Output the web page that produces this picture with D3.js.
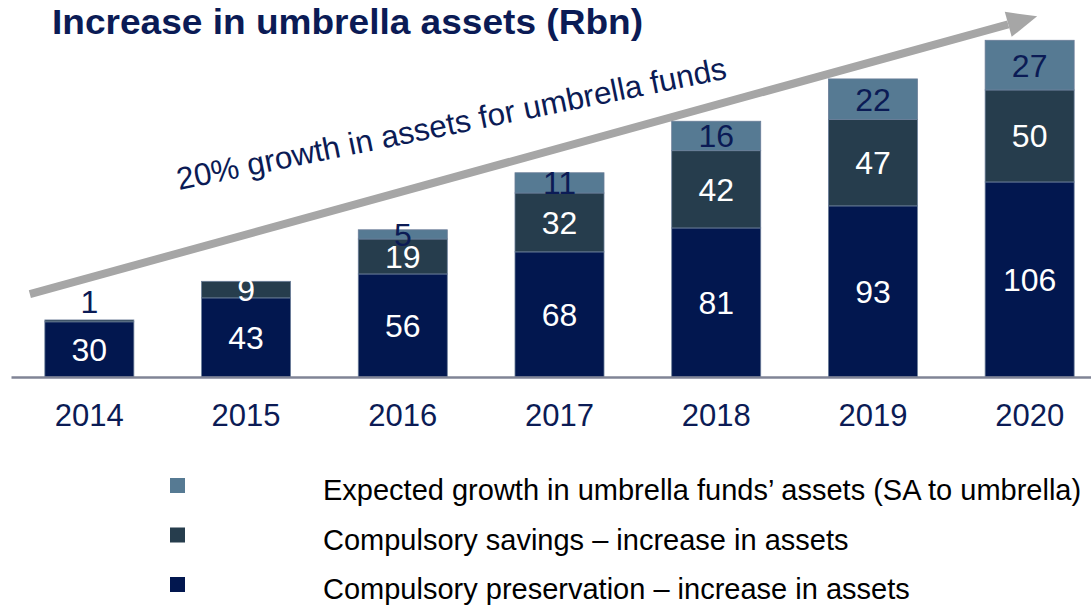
<!DOCTYPE html>
<html>
<head>
<meta charset="utf-8">
<script src="https://cdn.jsdelivr.net/npm/d3@7"></script>
<style>
  body { margin: 0; background: #fff; }
  svg { display: block; font-family: "Liberation Sans", Arial, sans-serif; }
</style>
</head>
<body>
<svg id="chart"></svg>
<script>
  const years = ['2014', '2015', '2016', '2017', '2018', '2019', '2020'];
  const preservation = [30, 43, 56, 68, 81, 93, 106];
  const savings = [1, 9, 19, 32, 42, 47, 50];
  const growth = [0, 0, 5, 11, 16, 22, 27];

  const seriesNames = [
    'Expected growth in umbrella funds\u2019 assets (SA to umbrella)',
    'Compulsory savings \u2013 increase in assets',
    'Compulsory preservation \u2013 increase in assets'
  ];
  const titleText = 'Increase in umbrella assets (Rbn)';
  const arrowText = '20% growth in assets for umbrella funds';

  const WIDTH = 1091;
  const HEIGHT = 609;
  const NAVY = '#0b1b55';
  const COLORS = { preservation: '#02174f', savings: '#263d4d', growth: '#567a93' };

  const svg = d3.select('#chart').attr('width', WIDTH).attr('height', HEIGHT);

  const x = d3.scaleBand()
    .domain(years)
    .range([11, 1108])
    .paddingInner(0.432)
    .paddingOuter(0.216);
  const y = d3.scaleLinear().domain([0, 200]).range([377, 9]);

  // stacked data
  const data = years.map((yr, i) => ({
    year: yr, preservation: preservation[i], savings: savings[i], growth: growth[i]
  }));
  const keys = ['preservation', 'savings', 'growth'];
  const stacked = d3.stack().keys(keys)(data);

  // title
  svg.append('text')
    .attr('x', 52).attr('y', 34)
    .attr('font-size', 35).attr('font-weight', 'bold')
    .attr('fill', NAVY)
    .attr('textLength', 591).attr('lengthAdjust', 'spacingAndGlyphs')
    .text(titleText);

  // growth arrow (drawn behind the bars)
  const ax0 = x('2014') - 15, ay0 = y(45);
  const ax1 = x('2020') + x.bandwidth() - 37, ay1 = y(196);
  const ang = Math.atan2(ay1 - ay0, ax1 - ax0);
  const headLen = 30, headW = 13;
  const bx = ax1 - headLen * Math.cos(ang), by = ay1 - headLen * Math.sin(ang);
  svg.append('line')
    .attr('x1', ax0).attr('y1', ay0).attr('x2', bx).attr('y2', by)
    .attr('stroke', '#a6a6a6').attr('stroke-width', 8);
  svg.append('path')
    .attr('d', d3.line()([
      [ax1, ay1],
      [bx + headW * Math.sin(ang), by - headW * Math.cos(ang)],
      [bx - headW * Math.sin(ang), by + headW * Math.cos(ang)]
    ]) + 'Z')
    .attr('fill', '#a6a6a6');

  svg.append('text')
    .attr('transform', 'translate(179,190) rotate(-11.5)')
    .attr('font-size', 31.5)
    .attr('fill', NAVY)
    .text(arrowText);

  // bars
  const layer = svg.selectAll('.layer')
    .data(stacked)
    .enter().append('g')
    .attr('class', 'layer')
    .attr('fill', d => COLORS[d.key]);

  layer.selectAll('rect')
    .data(d => d.filter(s => s[1] - s[0] > 0))
    .enter().append('rect')
    .attr('x', d => x(d.data.year))
    .attr('width', x.bandwidth())
    .attr('y', d => y(d[1]))
    .attr('height', d => y(d[0]) - y(d[1]))
    .attr('stroke', '#6a7d98')
    .attr('stroke-width', 0.8);

  // value labels
  stacked.forEach(s => {
    svg.append('g').selectAll('text')
      .data(s.filter(d => d[1] - d[0] > 0))
      .enter().append('text')
      .attr('x', d => x(d.data.year) + x.bandwidth() / 2)
      .attr('y', d => (d[1] - d[0]) < 3 ? y(d[1]) - 18 : y((d[0] + d[1]) / 2))
      .attr('dy', '0.36em')
      .attr('text-anchor', 'middle')
      .attr('font-size', 32)
      .attr('fill', d => (s.key === 'growth' || (d[1] - d[0]) < 3) ? NAVY : '#ffffff')
      .text(d => d[1] - d[0]);
  });

  // x axis
  const axis = svg.append('g')
    .attr('transform', `translate(0, ${y(0)})`)
    .call(d3.axisBottom(x).tickSize(0).tickSizeOuter(0).tickPadding(49));
  axis.select('.domain').attr('stroke', '#808496').attr('stroke-width', 2.5);
  axis.selectAll('text')
    .attr('font-size', 31)
    .attr('font-family', '"Liberation Sans", Arial, sans-serif')
    .attr('fill', NAVY)
    .attr('dy', 0);

  // legend
  const legendKeys = ['growth', 'savings', 'preservation'];
  const legend = svg.append('g').selectAll('g')
    .data(legendKeys)
    .enter().append('g')
    .attr('transform', (d, i) => `translate(0, ${i * 49.5})`);
  legend.append('rect')
    .attr('x', 170).attr('y', 478)
    .attr('width', 15).attr('height', 15)
    .attr('fill', d => COLORS[d]);
  legend.append('text')
    .attr('x', 323).attr('y', 500)
    .attr('font-size', 29)
    .attr('fill', '#000')
    .text((d, i) => seriesNames[i]);
</script>
</body>
</html>
